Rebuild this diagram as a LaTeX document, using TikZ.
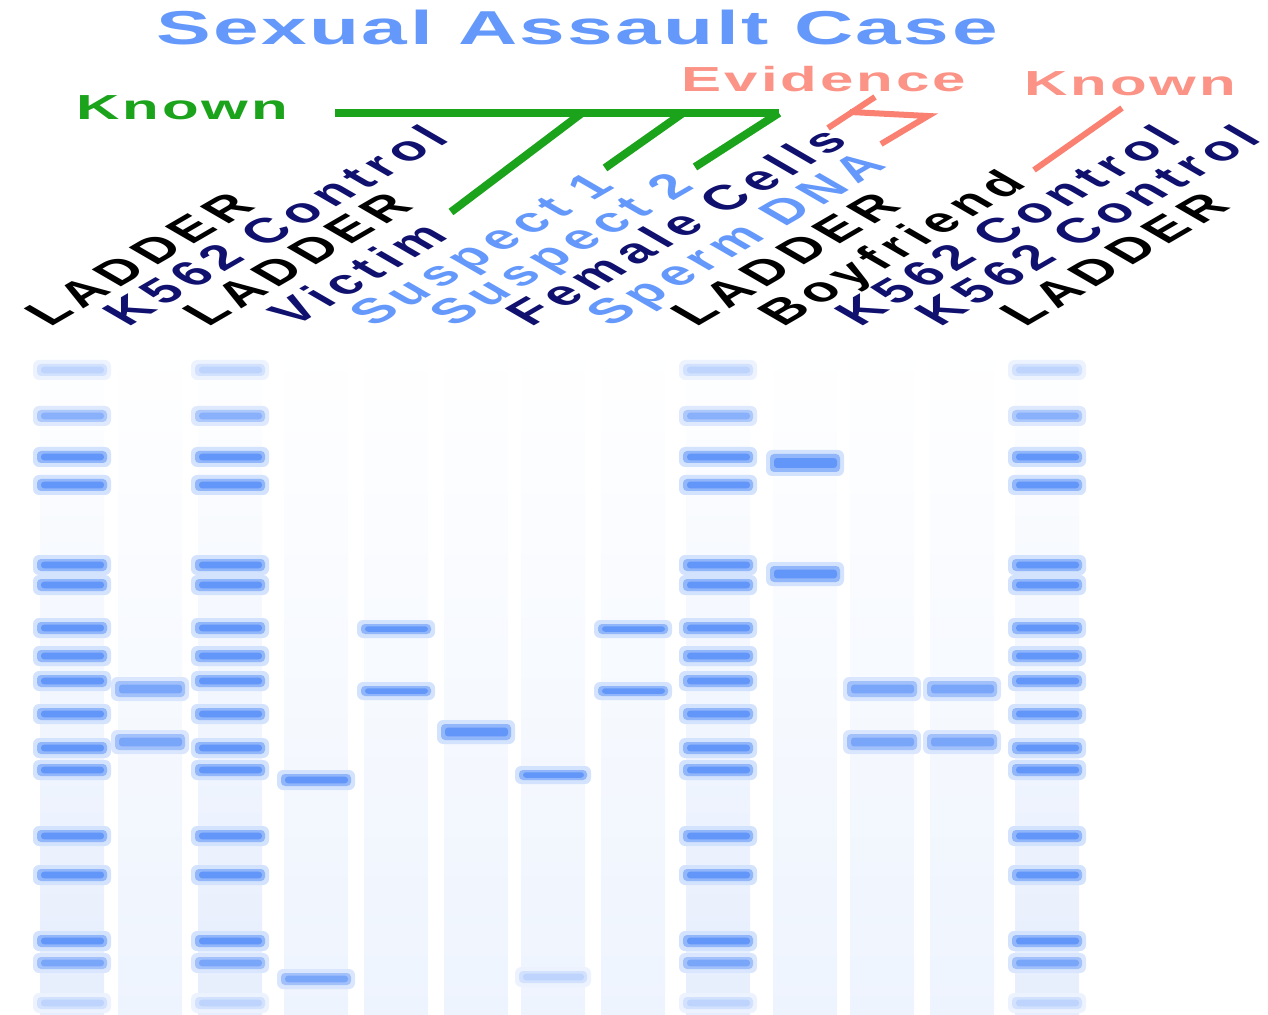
\documentclass[tikz,border=0pt]{standalone}
\usepackage{fontspec}
\setmainfont{Liberation Sans}
\newfontfamily\spacedfont[LetterSpace=5]{Liberation Sans}
\newfontfamily\widefont[LetterSpace=14]{Liberation Sans}
\newfontfamily\titlefont[LetterSpace=3]{Liberation Sans}
\definecolor{titleblue}{RGB}{100,152,250}
\definecolor{navylabel}{RGB}{16,16,110}
\definecolor{knowngreen}{RGB}{28,163,28}
\definecolor{evidsalmon}{RGB}{250,128,114}
\definecolor{bandblue}{RGB}{98,150,248}
\definecolor{bandpale}{RGB}{190,212,252}
\definecolor{lanebg}{RGB}{238,244,254}
\definecolor{ladderbg}{RGB}{230,238,253}
\colorlet{bandmid}{bandblue!75}
\colorlet{bandsoft}{bandblue!85}
\colorlet{salmontext}{evidsalmon!85}
\tikzset{
  lanelabel/.style={font=\widefont\bfseries\fontsize{30}{30}\selectfont, anchor=base west, inner sep=0pt, yscale=0.58, rotate=45},
  grouplabel/.style={font=\spacedfont\bfseries\fontsize{30}{30}\selectfont, anchor=base, inner sep=0pt, yscale=0.58},
  titletext/.style={font=\titlefont\bfseries\fontsize{41}{41}\selectfont, anchor=base, inner sep=0pt, yscale=0.58, text=titleblue},
  greenline/.style={draw=knowngreen, line width=4pt},
  salmonline/.style={draw=evidsalmon, line width=3pt}
}
\newcommand{\gelband}[5]{%
  % #1 x, #2 y, #3 half width, #4 half height, #5 colour
  \fill[#5!28, rounded corners=3pt] ({#1-#3-4},{#2-#4-4}) rectangle ({#1+#3+4},{#2+#4+4});
  \fill[#5!70, rounded corners=2pt] ({#1-#3},{#2-#4}) rectangle ({#1+#3},{#2+#4});
  \fill[#5, rounded corners=1.5pt] ({#1-#3+4},{#2-#4*0.55}) rectangle ({#1+#3-3},{#2+#4*0.55});
}
\begin{document}
\begin{tikzpicture}[x=0.5pt, y=-0.5pt]
  \useasboundingbox (0,0) rectangle (1268,1015);

  % lane backgrounds
  \foreach \x in {150,316,396,476,553,633,805,882,962}
    \shade[top color=white, bottom color=lanebg] ({\x-32},340) rectangle ({\x+32},1015);
  \foreach \x in {72,230,718,1047}
    \shade[top color=white, bottom color=ladderbg] ({\x-32},340) rectangle ({\x+32},1015);

  % ladder bands
  \foreach \x in {72,230,718,1047} {
    \foreach \y/\c in {370/bandpale, 416/bandmid, 457/bandblue, 485/bandblue,
        565/bandblue, 585/bandblue, 628/bandblue, 656/bandblue, 681/bandblue,
        714/bandblue, 748/bandblue, 770/bandblue, 836/bandblue, 875/bandblue,
        941/bandblue, 963/bandsoft, 1003/bandpale}
      {\gelband{\x}{\y}{35}{6}{\c}}
  }

  % sample bands
  \foreach \x in {150,882,962} {
    \gelband{\x}{689}{35}{8}{bandsoft}
    \gelband{\x}{742}{35}{8}{bandsoft}
  }
  \gelband{316}{780}{35}{6}{bandblue}
  \gelband{316}{979}{35}{6}{bandsoft}
  \gelband{396}{629}{35}{5}{bandblue}
  \gelband{396}{691}{35}{5}{bandblue}
  \gelband{476}{732}{35}{8}{bandblue}
  \gelband{553}{775}{34}{5}{bandblue}
  \gelband{553}{977}{34}{6}{bandpale}
  \gelband{633}{629}{35}{5}{bandblue}
  \gelband{633}{691}{35}{5}{bandblue}
  \gelband{805}{463}{35}{9}{bandblue}
  \gelband{805}{574}{35}{8}{bandblue}

  % lane labels
  \foreach \x/\txt/\col [count=\i] in {72/LADDER/black, 150/K562 Control/navylabel,
      230/LADDER/black, 316/Victim/navylabel, 396/Suspect 1/titleblue,
      476/Suspect 2/titleblue, 553/Female Cells/navylabel, 633/Sperm DNA/titleblue,
      718/LADDER/black, 805/Boyfriend/black, 882/K562 Control/navylabel,
      962/K562 Control/navylabel, 1047/LADDER/black}
    \node[lanelabel, text=\col] (lbl\i) at ({\x-22},328) {\txt};

  % title and group labels
  \node[titletext] (title) at (577,45) {Sexual Assault Case};
  \node[grouplabel, text=knowngreen] (knownL) at (182,120) {Known};
  \node[grouplabel, text=salmontext] (evid) at (824,92) {Evidence};
  \node[grouplabel, text=salmontext] (knownR) at (1130,96) {Known};

  % known bracket
  \coordinate (gbar) at (335,113);
  \coordinate (gv) at (582,113);
  \coordinate (gs1) at (683,113);
  \coordinate (gs2) at (779,113);
  \coordinate (tv) at (451,212);
  \coordinate (ts1) at (605,168);
  \coordinate (ts2) at (695,167);
  \draw[greenline] (gbar) -- (gs2);
  \draw[greenline] (gv) -- (tv);
  \draw[greenline] (gs1) -- (ts1);
  \draw[greenline] (gs2) -- (ts2);

  % evidence bracket
  \coordinate (ea) at (828,128);
  \coordinate (eb) at (875,97);
  \coordinate (ec) at (850,112);
  \coordinate (ed) at (928,116);
  \coordinate (ee) at (881,144);
  \draw[salmonline] (ea) -- (eb);
  \draw[salmonline] (ec) -- (ed) -- (ee);

  % boyfriend pointer
  \coordinate (ka) at (1122,108);
  \coordinate (kb) at (1034,170);
  \draw[salmonline] (ka) -- (kb);
\end{tikzpicture}
\end{document}
